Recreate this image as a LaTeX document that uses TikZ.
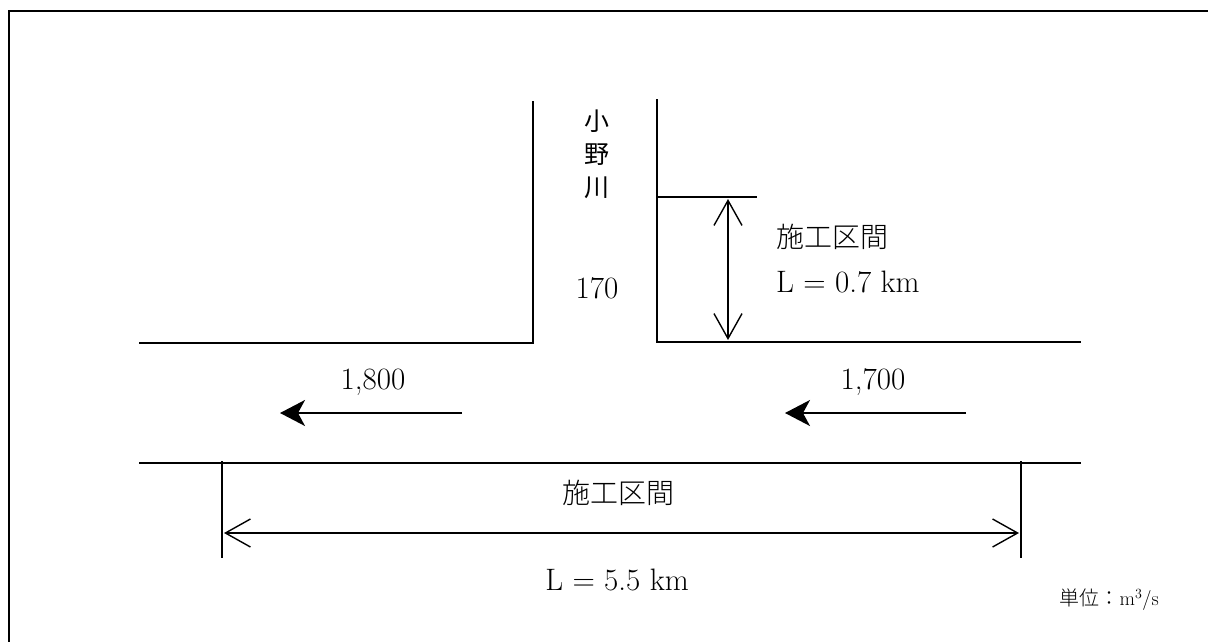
\documentclass[tikz,border=0pt]{standalone}
\usepackage{fontspec}
\newfontfamily\jp{Noto Sans CJK JP}
\newfontfamily\jpl{Noto Sans CJK JP}[UprightFont={* Light}]
\usetikzlibrary{arrows.meta}
\tikzset{
  bank/.style={line width=1.6pt, line cap=rect},
  dimline/.style={line width=1.4pt, {Straight Barb[length=25pt,width=28pt]}-{Straight Barb[length=25pt,width=28pt]}},
  tick/.style={line width=1.4pt},
  flow/.style={line width=1.6pt, -{Stealth[length=25pt,width=26pt,inset=7pt]}},
  lbl/.style={font=\fontsize{31}{35}\selectfont, inner sep=0pt},
  jlbl/.style={font=\jpl\fontsize{28}{32}\selectfont, inner sep=0pt},
  small/.style={font=\fontsize{20}{24}\selectfont, inner sep=0pt}
}
\begin{document}
\begin{tikzpicture}[x=1pt,y=-1pt]
\useasboundingbox (0,0) rectangle (1208,641);
% frame (top and left visible)
\draw[line width=2.5pt] (9,650) -- (9,11) -- (1215,11);
% river banks
\draw[bank] (140,343) -- (533,343) -- (533,102);
\draw[bank] (657,100) -- (657,342) -- (1080,342);
\draw[bank] (657,197) -- (756,197);
\draw[bank] (140,463) -- (1080,463);
% tributary section dimension
\coordinate (ut) at (728,199);
\coordinate (ub) at (728,340);
\draw[dimline] (ut) -- (ub);
\node[jlbl, anchor=west] (t1) at (776,237) {施工区間};
\node[lbl, anchor=west] (l1) at (776,282) {L = 0.7 km};
% tributary name and flow
\node[inner sep=0pt, align=center, font=\jp\fontsize{25}{33}\selectfont] (name) at (597,154) {小\\野\\川};
\node[lbl] (q3) at (597,288) {170};
% main channel flows
\coordinate (a1s) at (462,413);
\coordinate (a1e) at (280,413);
\draw[flow] (a1s) -- (a1e);
\node[lbl] (q1) at (373,382) {1,800};
\coordinate (a2s) at (966,413);
\coordinate (a2e) at (785,413);
\draw[flow] (a2s) -- (a2e);
\node[lbl] (q2) at (873,382) {1,700};
% main section dimension
\coordinate (k1t) at (222,461);
\coordinate (k1b) at (222,558);
\coordinate (k2t) at (1021,461);
\coordinate (k2b) at (1021,558);
\draw[tick] (k1t) -- (k1b);
\draw[tick] (k2t) -- (k2b);
\coordinate (dl) at (224,533);
\coordinate (dr) at (1019,533);
\draw[dimline] (dl) -- (dr);
\node[jlbl] (t2) at (618,493) {施工区間};
\node[lbl] (l2) at (617,580) {L = 5.5 km};
% unit
\node[small, anchor=east] (unit) at (1159,600) {{\jpl 単位：}m\textsuperscript{3}/s};
\end{tikzpicture}
\end{document}
